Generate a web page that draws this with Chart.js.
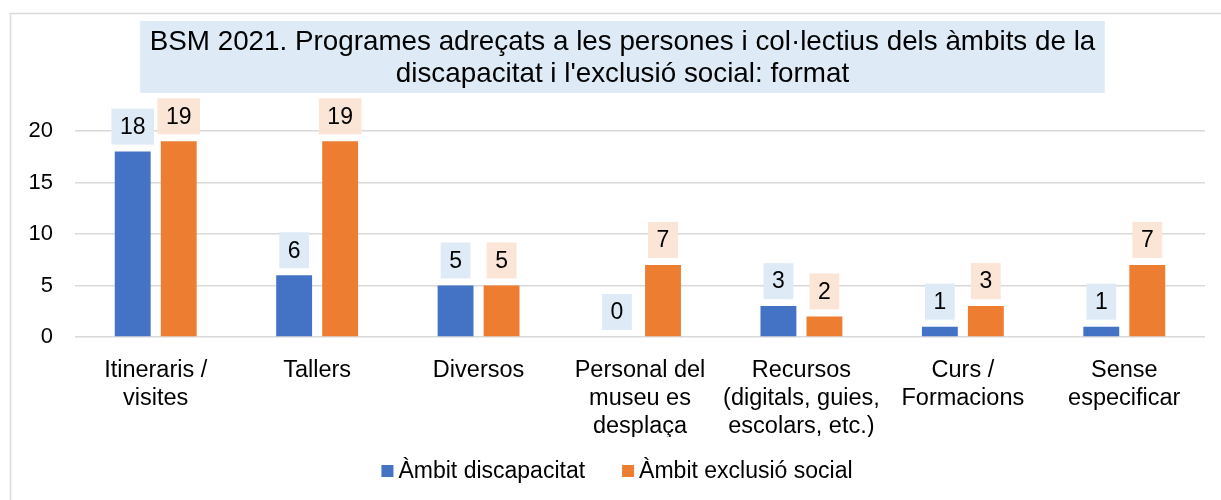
<!DOCTYPE html>
<html>
<head>
<meta charset="utf-8">
<script src="https://cdn.jsdelivr.net/npm/chart.js@4.4.1/dist/chart.umd.min.js"></script>
<style>
  html, body { margin: 0; padding: 0; background: #fff; }
  canvas { display: block; }
</style>
</head>
<body>
<canvas id="myChart" width="1221" height="500"></canvas>
<script>
// Chart data
const titleLines = ['BSM 2021. Programes adreçats a les persones i col·lectius dels àmbits de la',
                    "discapacitat i l'exclusió social: format"];
const categories = [
    ['Itineraris /', 'visites'],
    ['Tallers'],
    ['Diversos'],
    ['Personal del', 'museu es', 'desplaça'],
    ['Recursos', '(digitals, guies,', 'escolars, etc.)'],
    ['Curs /', 'Formacions'],
    ['Sense', 'especificar']
];
const seriesNames = ['Àmbit discapacitat', 'Àmbit exclusió social'];
const discapacitat = [18, 6, 5, 0, 3, 1, 1];
const exclusioSocial = [19, 19, 5, 7, 2, 3, 7];
const yTicks = [0, 5, 10, 15, 20];

const FONT = "'Liberation Sans', Arial, sans-serif";
const barColors = ['#4472C4', '#ED7D31'];
const labelBg = ['#DEEBF7', '#FBE5D6'];

// Outer frame + title with its shaded box
const framePlugin = {
    id: 'frame',
    beforeDraw(chart) {
        const c = chart.ctx;
        c.save();
        c.fillStyle = '#fff';
        c.fillRect(0, 0, chart.width, chart.height);
        c.strokeStyle = '#D9D9D9';
        c.lineWidth = 1.5;
        c.strokeRect(10.5, 13.5, 1400, 700);

        c.font = '27.8px ' + FONT;
        const w = Math.max(...titleLines.map(t => c.measureText(t).width));
        const cx = 622.5;
        c.fillStyle = '#DEEBF7';
        c.fillRect(cx - w / 2 - 9.5, 21, w + 19, 72);
        c.fillStyle = '#000';
        c.textAlign = 'center';
        c.textBaseline = 'middle';
        titleLines.forEach((t, i) => c.fillText(t, cx, 42 + i * 32.5));
        c.restore();
    }
};

// Value labels with a coloured box above each bar
const valueLabels = {
    id: 'valueLabels',
    afterDatasetsDraw(chart) {
        const c = chart.ctx;
        c.save();
        c.font = '23px ' + FONT;
        c.textAlign = 'center';
        c.textBaseline = 'middle';
        chart.data.datasets.forEach((ds, di) => {
            chart.getDatasetMeta(di).data.forEach((bar, i) => {
                const txt = String(ds.data[i]);
                const w = c.measureText(txt).width + 17;
                const h = 36;
                const bottom = bar.y - 7;
                c.fillStyle = labelBg[di];
                c.fillRect(bar.x - w / 2, bottom - h, w, h);
                c.fillStyle = '#000';
                c.fillText(txt, bar.x, bottom - h / 2 + 1);
            });
        });
        c.restore();
    }
};

// Legend drawn at the bottom
const bottomLegend = {
    id: 'bottomLegend',
    afterDraw(chart) {
        const c = chart.ctx;
        c.save();
        c.font = '23px ' + FONT;
        c.textBaseline = 'middle';
        const box = 12, gap = 5, spacing = 37;
        const widths = seriesNames.map(n => c.measureText(n).width);
        const total = widths.reduce((a, b) => a + b, 0) + seriesNames.length * (box + gap) + spacing;
        let x = 617 - total / 2;
        const y = 471;
        seriesNames.forEach((n, i) => {
            c.fillStyle = barColors[i];
            c.fillRect(x, y - box / 2, box, box);
            c.fillStyle = '#000';
            c.fillText(n, x + box + gap, y + 1);
            x += box + gap + widths[i] + spacing;
        });
        c.restore();
    }
};

document.addEventListener("DOMContentLoaded", () => {
    const ctx = document.getElementById("myChart").getContext("2d");

    new Chart(ctx, {
        type: 'bar',
        data: {
            labels: categories,
            datasets: [
                { label: seriesNames[0], data: discapacitat, backgroundColor: barColors[0] },
                { label: seriesNames[1], data: exclusioSocial, backgroundColor: barColors[1] }
            ]
        },
        options: {
            responsive: false,
            animation: false,
            categoryPercentage: 0.57,
            barPercentage: 0.78,
            layout: { padding: { left: 0, right: 16, top: 131, bottom: 63 } },
            plugins: {
                legend: { display: false },
                title: { display: false },
                tooltip: { enabled: false }
            },
            scales: {
                x: {
                    grid: { display: false },
                    border: { display: false },
                    ticks: {
                        color: '#000',
                        padding: 12,
                        maxRotation: 0,
                        autoSkip: false,
                        font: { family: FONT, size: 23.5, lineHeight: 1.18 }
                    },
                    afterFit(scale) { scale.height = 100; }
                },
                y: {
                    min: 0,
                    max: 20,
                    afterBuildTicks(scale) { scale.ticks = yTicks.map(v => ({ value: v })); },
                    grid: { color: '#D9D9D9', lineWidth: 1.5, drawTicks: false },
                    border: { display: false },
                    ticks: {
                        color: '#000',
                        padding: 22,
                        font: { family: FONT, size: 22 }
                    },
                    afterFit(scale) { scale.width = 75; }
                }
            }
        },
        plugins: [framePlugin, valueLabels, bottomLegend]
    });
});
</script>
</body>
</html>
